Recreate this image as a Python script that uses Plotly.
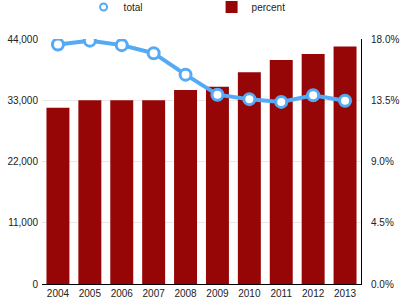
import plotly.graph_objects as go

years = ["2004", "2005", "2006", "2007", "2008", "2009", "2010", "2011", "2012", "2013"]
total = [43000, 43700, 42900, 41450, 37600, 34000, 33200, 32700, 33900, 32900]
percent = [12.95, 13.5, 13.5, 13.5, 14.25, 14.5, 15.55, 16.45, 16.9, 17.45]

left_ticks = [0, 11000, 22000, 33000, 44000]
left_labels = ["0", "11,000", "22,000", "33,000", "44,000"]
right_ticks = [0, 4.5, 9.0, 13.5, 18.0]
right_labels = ["0.0%", "4.5%", "9.0%", "13.5%", "18.0%"]

font = dict(family="Liberation Sans, Arial, sans-serif", size=10, color="#222222")
blue = "#55aaf5"

fig = go.Figure()
fig.add_trace(go.Scatter(
    x=years, y=total, name="total", yaxis="y2", mode="lines+markers",
    line=dict(color=blue, width=4), showlegend=False, legendgroup="total",
    marker=dict(symbol="circle", size=11, color="white", line=dict(color=blue, width=3)),
))
# legend entry for the line (marker only, as in the reference)
fig.add_trace(go.Scatter(
    x=[None], y=[None], name="total", yaxis="y2", mode="markers", legendgroup="total",
    marker=dict(symbol="circle", size=7, color="white", line=dict(color=blue, width=2)),
))
fig.add_trace(go.Bar(
    x=years, y=percent, name="percent", yaxis="y",
    marker=dict(color="#970606", line=dict(width=0)),
))

fig.update_layout(
    width=400, height=300,
    margin=dict(l=42, r=39, t=39, b=16, pad=0, autoexpand=False),
    paper_bgcolor="white", plot_bgcolor="white",
    font=font,
    bargap=0.28,
    showlegend=True,
    legend=dict(orientation="h", x=0.209, xanchor="left", y=1.19, yanchor="top",
                yref="paper", xref="container", entrywidth=83, entrywidthmode="pixels",
                font=font, traceorder="normal", itemwidth=30),
    xaxis=dict(type="category", range=[-0.5, 9.5], showline=True, linecolor="black", linewidth=1,
               showgrid=False, ticks="", tickfont=font, ticklabelstandoff=0, automargin=False),
    yaxis=dict(side="right", range=[0, 18], tickvals=right_ticks, ticktext=right_labels,
               showgrid=True, gridcolor="#e8e8e8",
               showline=True, linecolor="black", linewidth=1, ticks="",
               zeroline=False, tickfont=font, ticklabelstandoff=7, automargin=False),
    yaxis2=dict(side="left", overlaying="y", range=[0, 44000], tickvals=left_ticks,
                ticktext=left_labels, showgrid=False, showline=False, ticks="",
                zeroline=False, tickfont=font, ticklabelstandoff=3, automargin=False),
)

fig.write_html("out.html")
